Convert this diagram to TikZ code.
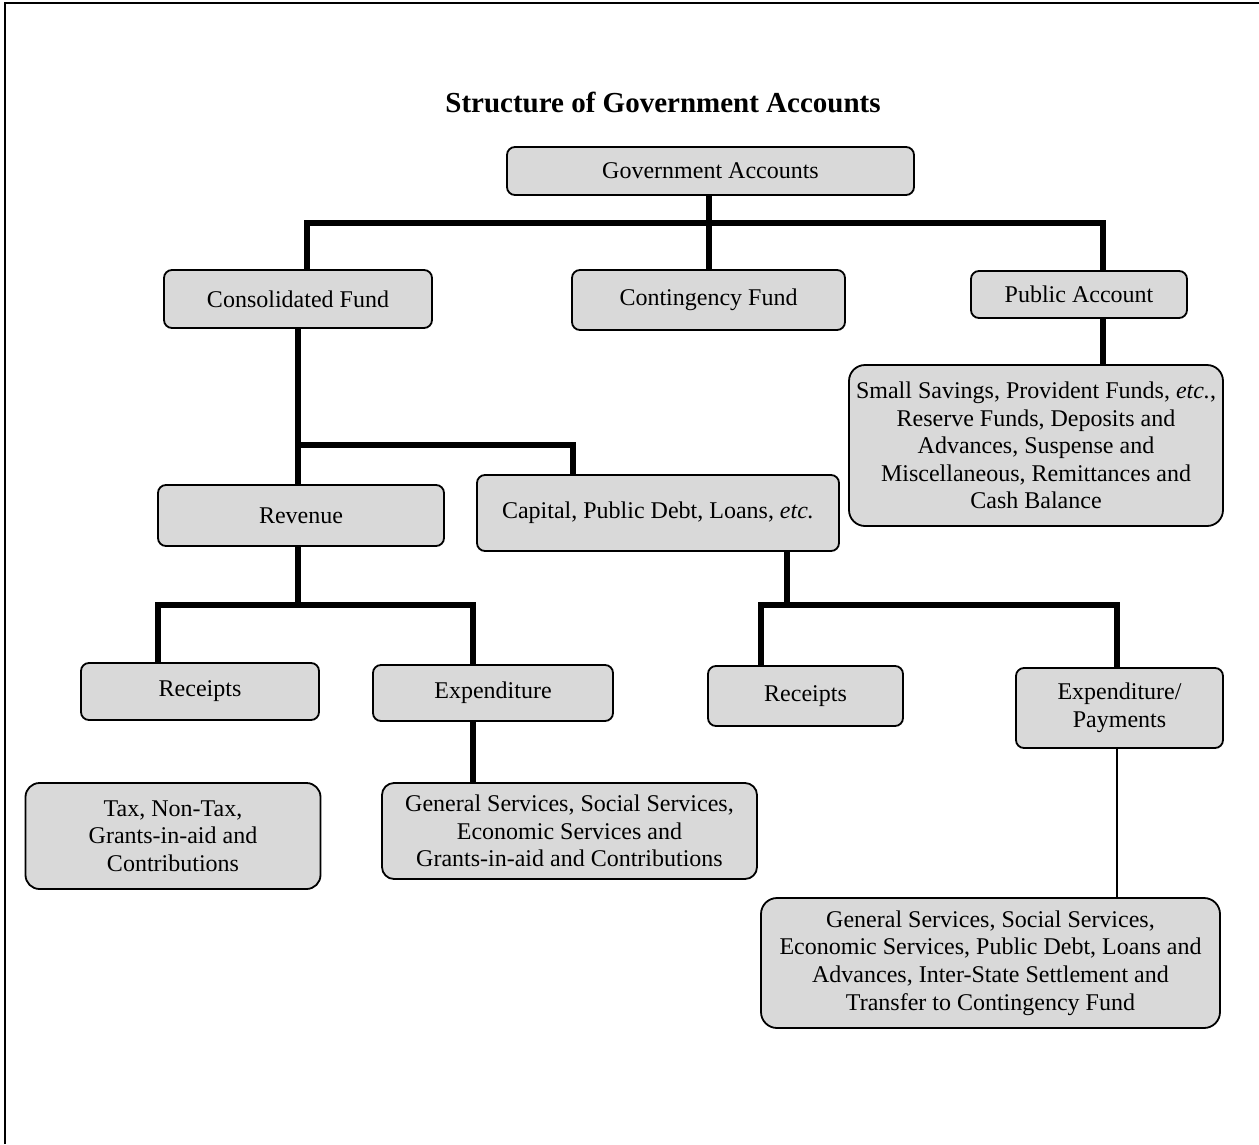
\documentclass[tikz,border=0pt]{standalone}
\usepackage{fontspec}
\setmainfont{Liberation Serif}
\definecolor{boxgray}{HTML}{D9D9D9}
\begin{document}
\begin{tikzpicture}[x=1pt,y=-1pt,
  box/.style={draw=black, line width=1.8pt, fill=boxgray, rounded corners=8pt,
    inner sep=0pt, align=center, font=\fontsize{24}{27.6}\selectfont},
  bigbox/.style={box, rounded corners=16pt},
  bar/.style={line width=5.5pt},
  thinline/.style={line width=2pt},
  frameline/.style={line width=2.5pt},
  titlestyle/.style={font=\fontsize{29}{34}\selectfont\bfseries, inner sep=0pt}]
\useasboundingbox (0,0) rectangle (1259,1144);
% frame (left and top edges)
\coordinate (fbl) at (5,1144);
\coordinate (ftl) at (5,3);
\coordinate (ftr) at (1259,3);
\draw[frameline] (fbl) -- (ftl) -- (ftr);

\node[titlestyle, anchor=base] (title) at (663,112) {Structure of Government Accounts};

% nodes
\node[box, minimum width=407pt, minimum height=48pt] (gov) at (710.5,171) {Government Accounts};
\node[box, minimum width=268pt, minimum height=58pt] (cons) at (298,299) {Consolidated Fund};
\node[box, minimum width=273pt, minimum height=60pt] (cont) at (708.5,300) {Contingency Fund};
\node[box, minimum width=216pt, minimum height=47pt] (pub) at (1079,294.5) {Public Account};
\node[bigbox, minimum width=374pt, minimum height=161pt] (pad) at (1036,445.5)
  {Small Savings, Provident Funds, \textit{etc.},\\Reserve Funds, Deposits and\\Advances, Suspense and\\Miscellaneous, Remittances and\\Cash Balance};
\node[box, minimum width=286pt, minimum height=61pt] (rev) at (301,515.5) {Revenue};
\node[box, minimum width=362pt, minimum height=76pt] (cap) at (658,513) {Capital, Public Debt, Loans, \textit{etc.}};
\node[box, minimum width=238pt, minimum height=57pt] (recL) at (200,691.5) {Receipts};
\node[box, minimum width=240pt, minimum height=56pt] (exp) at (493,693) {Expenditure};
\node[bigbox, rounded corners=14pt, minimum width=295pt, minimum height=106pt] (tax) at (173,836)
  {Tax, Non-Tax,\\Grants-in-aid and\\Contributions};
\node[box, rounded corners=12pt, minimum width=375pt, minimum height=96pt] (gsL) at (569.5,831)
  {General Services, Social Services,\\Economic Services and\\Grants-in-aid and Contributions};
\node[box, minimum width=195pt, minimum height=60pt] (recR) at (805.5,696) {Receipts};
\node[box, minimum width=207pt, minimum height=80pt] (ep) at (1119.5,708) {Expenditure/\\Payments};
\node[bigbox, minimum width=459pt, minimum height=130pt] (gsR) at (990.5,963)
  {General Services, Social Services,\\Economic Services, Public Debt, Loans and\\Advances, Inter-State Settlement and\\Transfer to Contingency Fund};

% junction coordinates
\coordinate (ta) at (307,223);
\coordinate (tg) at (709,223);
\coordinate (tb) at (1103,223);
\coordinate (ca) at (298,445);
\coordinate (cb) at (573,445);
\coordinate (rj) at (298,605);
\coordinate (ra) at (158,605);
\coordinate (rb) at (473,605);
\coordinate (kj) at (787,605);
\coordinate (ka) at (761,605);
\coordinate (kb) at (1117,605);

% connectors
\draw[bar] (tg |- gov.south) -- (tg |- cont.north);
\draw[bar] (ta |- cons.north) -- (ta) -- (tb) -- (tb |- pub.north);
\draw[bar] (tb |- pub.south) -- (tb |- pad.north);
\draw[bar] (ca |- cons.south) -- (ca |- rev.north);
\draw[bar] (ca) -- (cb) -- (cb |- cap.north);
\draw[bar] (rj |- rev.south) -- (rj);
\draw[bar] (ra |- recL.north) -- (ra) -- (rb) -- (rb |- exp.north);
\draw[bar] (rb |- exp.south) -- (rb |- gsL.north);
\draw[bar] (kj |- cap.south) -- (kj);
\draw[bar] (ka |- recR.north) -- (ka) -- (kb) -- (kb |- ep.north);
\draw[thinline] (kb |- ep.south) -- (kb |- gsR.north);
\end{tikzpicture}
\end{document}
